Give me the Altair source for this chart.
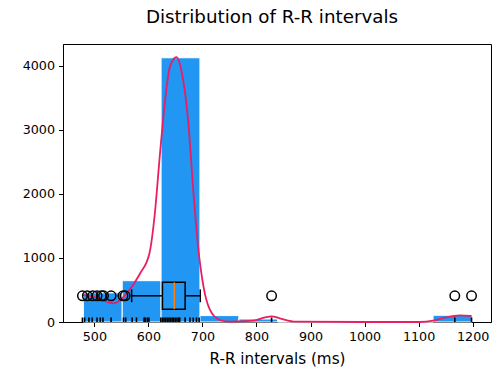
import altair as alt
import pandas as pd

# Histogram bins (ms) and counts
bin_edges = [479.7, 551.6, 623.5, 695.4, 767.3, 839.2, 911.1, 983.0, 1054.9, 1126.8, 1198.7]
bin_counts = [455, 645, 4125, 100, 47, 0, 0, 0, 0, 105]

# KDE curve (scaled to counts)
kde_x = [478, 498, 517, 535, 548, 560, 585, 602, 612, 621, 631, 640, 652, 662, 674, 683, 692,
         702, 714, 732, 749, 794, 816, 828, 843, 873, 1000, 1102, 1127, 1151, 1176, 1198]
kde_y = [420, 396, 333, 292, 344, 448, 761, 1073, 1698, 2583, 3469, 3990, 4136, 3885, 3104, 2063, 1177,
         552, 188, 31, 5, 20, 73, 89, 58, 5, 0, 0, 20, 73, 104, 94]

# Rug values (ms)
rug_vals = [478, 482, 490, 496, 505, 511, 516, 531, 554, 558, 570, 578, 592, 594, 598, 601,
            623, 626, 629, 632, 635, 638, 641, 644, 647, 650, 653, 656, 658,
            668, 677, 683, 689, 694, 828, 1167, 1198]

# Box plot statistics (ms)
q1, median, q3 = 626, 648, 668
whisker_lo, whisker_hi = 569, 696
outliers = [478, 487, 497, 505, 513, 517, 531, 553, 557, 828, 1167, 1198]
box_level = 409

bars = pd.DataFrame({"x0": bin_edges[:-1], "x1": bin_edges[1:], "count": bin_counts})
kde = pd.DataFrame({"x": kde_x, "y": kde_y})
rug = pd.DataFrame({"x": rug_vals})
box = pd.DataFrame({"q1": [q1], "q3": [q3], "med": [median], "lo": [whisker_lo], "hi": [whisker_hi],
                    "y": [box_level], "ylo": [box_level - 211], "yhi": [box_level + 211],
                    "clo": [box_level - 100], "chi": [box_level + 100]})
outl = pd.DataFrame({"x": outliers, "y": [box_level] * len(outliers)})

xs = alt.Scale(domain=[442, 1234], nice=False, zero=False)
ys = alt.Scale(domain=[0, 4340], nice=False, zero=False)

xax = alt.Axis(values=list(range(500, 1201, 100)), format="d", title="R-R intervals (ms)", grid=False)
yax = alt.Axis(values=list(range(0, 4001, 500)), format="d", title=None, grid=False)

bar_layer = alt.Chart(bars).mark_rect(color="#2196F3", stroke="white", strokeWidth=1).encode(
    x=alt.X("x0:Q", scale=xs, axis=xax), x2="x1:Q",
    y=alt.Y("count:Q", scale=ys, axis=yax), y2=alt.datum(0))

rug_layer = alt.Chart(rug).mark_rule(color="black", strokeWidth=1.6).encode(
    x=alt.X("x:Q", scale=xs), y=alt.value(278), y2=alt.value(273.5))

kde_layer = alt.Chart(kde).mark_line(color="#E91E63", strokeWidth=1.8, interpolate="monotone").encode(
    x=alt.X("x:Q", scale=xs), y=alt.Y("y:Q", scale=ys))

whisk_lo = alt.Chart(box).mark_rule(color="black", strokeWidth=1.5).encode(
    x=alt.X("lo:Q", scale=xs), x2="q1:Q", y=alt.Y("y:Q", scale=ys))
whisk_hi = alt.Chart(box).mark_rule(color="black", strokeWidth=1.5).encode(
    x=alt.X("q3:Q", scale=xs), x2="hi:Q", y=alt.Y("y:Q", scale=ys))
cap_lo = alt.Chart(box).mark_rule(color="black", strokeWidth=1.5).encode(
    x=alt.X("lo:Q", scale=xs), y=alt.Y("clo:Q", scale=ys), y2="chi:Q")
cap_hi = alt.Chart(box).mark_rule(color="black", strokeWidth=1.5).encode(
    x=alt.X("hi:Q", scale=xs), y=alt.Y("clo:Q", scale=ys), y2="chi:Q")
box_rect = alt.Chart(box).mark_rect(fill=None, fillOpacity=0, stroke="black", strokeWidth=1.5).encode(
    x=alt.X("q1:Q", scale=xs), x2="q3:Q", y=alt.Y("ylo:Q", scale=ys), y2="yhi:Q")
med_line = alt.Chart(box).mark_rule(color="#FF7F0E", strokeWidth=1.5).encode(
    x=alt.X("med:Q", scale=xs), y=alt.Y("ylo:Q", scale=ys), y2="yhi:Q")
out_layer = alt.Chart(outl).mark_point(shape="circle", filled=False, color="black", size=90, strokeWidth=1.5,
                                       opacity=1).encode(
    x=alt.X("x:Q", scale=xs), y=alt.Y("y:Q", scale=ys))

chart = alt.layer(bar_layer, rug_layer, kde_layer, whisk_lo, whisk_hi, cap_lo, cap_hi,
                  box_rect, med_line, out_layer).properties(
    width=428, height=278,
    autosize=alt.AutoSizeParams(type="none"),
    padding={"left": 63, "top": 44, "right": 10, "bottom": 47},
    title=alt.TitleParams("Distribution of R-R intervals", fontSize=18.3, font="DejaVu Sans",
                          fontWeight="normal", color="black", anchor="middle", dx=-5,
                          baseline="alphabetic", offset=3),
).configure_view(stroke="black", strokeWidth=1).configure_axis(
    labelFont="DejaVu Sans", labelFontSize=12.7, labelColor="black",
    titleFont="DejaVu Sans", titleFontSize=15.2, titleColor="black", titleFontWeight="normal",
    tickColor="black", tickSize=4.5, tickWidth=1, domainColor="black", domainWidth=1,
    labelPadding=4, titlePadding=8, labelFlush=False, labelOverlap=False
)

chart.save("out.html", embed_options={"renderer": "svg", "actions": False})
